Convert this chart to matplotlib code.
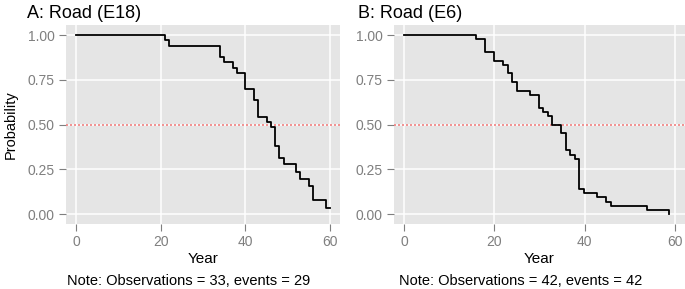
import matplotlib
matplotlib.use("Agg")
import matplotlib.pyplot as plt

plt.rcParams["font.family"] = ["Liberation Sans", "DejaVu Sans"]

# Kaplan-Meier style survival curves
years_a = [0, 21.0, 22.1, 34.1, 35.1, 37.0, 38.0, 40.0, 42.0, 43.1, 45.2, 46.0,
           47.1, 48.0, 49.1, 52.0, 52.9, 55.0, 56.1, 59.1, 60.0]
prob_a = [1.0, 0.970, 0.939, 0.879, 0.849, 0.818, 0.788, 0.697, 0.636, 0.545, 0.515,
          0.485, 0.379, 0.313, 0.278, 0.238, 0.198, 0.157, 0.079, 0.037, 0.037]

years_b = [0, 15.9, 18.0, 20.0, 21.9, 22.9, 23.9, 25.0, 27.9, 29.9, 30.75, 31.8,
           32.8, 34.8, 35.8, 36.8, 37.8, 38.8, 39.9, 42.8, 44.8, 45.9, 53.9, 58.8]
prob_b = [1.0, 0.976, 0.905, 0.857, 0.833, 0.786, 0.738, 0.690, 0.667, 0.595, 0.571,
          0.548, 0.500, 0.452, 0.357, 0.333, 0.310, 0.143, 0.119, 0.095, 0.071,
          0.048, 0.024, 0.0]

titles = ["A: Road (E18)", "B: Road (E6)"]
notes = ["Note: Observations = 33, events = 29", "Note: Observations = 42, events = 42"]
x_ticks = [0, 20, 40, 60]
y_ticks = [0.0, 0.25, 0.5, 0.75, 1.0]
y_ticklabels = ["0.00", "0.25", "0.50", "0.75", "1.00"]

W, H = 685, 289
fig = plt.figure(figsize=(W / 100, H / 100), dpi=100)


def px_axes(left, right, top, bottom):
    return fig.add_axes([left / W, 1 - bottom / H, (right - left) / W, (bottom - top) / H])


def style_panel(ax, xlim):
    ax.set_facecolor("#E5E5E5")
    for s in ax.spines.values():
        s.set_visible(False)
    ax.set_xlim(*xlim)
    ax.set_ylim(-0.056, 1.056)
    ax.set_xticks(x_ticks)
    ax.set_yticks(y_ticks)
    ax.set_yticklabels(y_ticklabels)
    ax.grid(color="white", linewidth=1.1)
    ax.set_axisbelow(True)
    ax.tick_params(length=5, width=0.8, color="#7F7F7F", labelcolor="#7F7F7F",
                   labelsize=10, pad=3)
    ax.tick_params(axis="x", pad=3)
    ax.axhline(0.5, color="#F08080", linestyle=(0, (1.2, 1.2)), linewidth=1.2)
    ax.set_xlabel("Year", fontsize=11, labelpad=2)


ax_a = px_axes(65.7, 340, 25, 224.3)
style_panel(ax_a, (-2.43, 62.4))
ax_a.step(years_a, prob_a, where="post", color="black", linewidth=1.3)
ax_a.set_ylabel("Probability", fontsize=10.5, labelpad=7)

ax_b = px_axes(394, 685, 25, 224.3)
style_panel(ax_b, (-2.3, 62.3))
ax_b.step(years_b, prob_b, where="post", color="black", linewidth=1.3)

fig.text(27 / W, 1 - 13 / H, titles[0], fontsize=13, va="center", ha="left")
fig.text(358 / W, 1 - 13 / H, titles[1], fontsize=13, va="center", ha="left")
fig.text(67 / W, 1 - 281 / H, notes[0], fontsize=10.5, va="center", ha="left")
fig.text(399 / W, 1 - 281 / H, notes[1], fontsize=10.5, va="center", ha="left")

fig.savefig("out.png", dpi=100)
